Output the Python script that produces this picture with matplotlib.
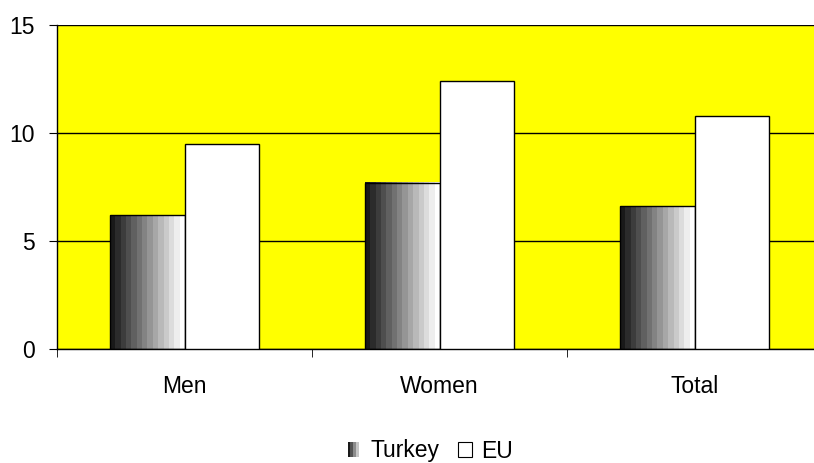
import numpy as np
import matplotlib.pyplot as plt
from matplotlib.patches import Rectangle
from matplotlib.legend_handler import HandlerBase

categories = ['Men', 'Women', 'Total']
turkey = [6.2, 7.7, 6.6]
eu = [9.5, 12.4, 10.8]

plt.rcParams['font.family'] = ['Liberation Sans', 'DejaVu Sans']


class GradientHandler(HandlerBase):
    def create_artists(self, legend, orig_handle, xdescent, ydescent,
                       width, height, fontsize, trans):
        arts = []
        n = 5
        w = width / n
        for i in range(n):
            g = 0.1 + 0.9 * i / (n - 1)
            r = Rectangle((-xdescent + i * w, -ydescent), w, height,
                          facecolor=(g, g, g), edgecolor='none', transform=trans)
            arts.append(r)
        return arts


fig = plt.figure(figsize=(8.14, 4.63), dpi=100)
ax = fig.add_axes([57 / 814, 1 - 349 / 463, 765 / 814, 324 / 463])
ax.set_facecolor('#ffff00')

x = np.arange(len(categories))
bw = 0.294
tb = ax.bar(x - bw / 2, turkey, bw, color='none', edgecolor='black', linewidth=1, zorder=3)
eb = ax.bar(x + bw / 2, eu, bw, color='white', edgecolor='black', linewidth=1, zorder=3)

# gradient fill for Turkey bars
grad = np.linspace(0.1, 1.0, 14).reshape(1, -1)
for p in tb:
    x0, y0 = p.get_x(), p.get_y()
    ax.imshow(grad, cmap='gray', vmin=0, vmax=1, aspect='auto', interpolation='nearest',
              extent=(x0, x0 + p.get_width(), y0, y0 + p.get_height()), zorder=2)

ax.set_xlim(-0.5, 2.5)
ax.set_ylim(0, 15)
ax.set_yticks([0, 5, 10, 15])
ax.yaxis.grid(True, color='black', linewidth=1)
ax.set_axisbelow(True)
ax.set_xticks(x)
ax.set_xticklabels(categories)
ax.set_xticks([-0.5, 0.5, 1.5, 2.5], minor=True)
ax.tick_params(axis='x', which='major', length=0, pad=19, labelsize=16.5)
ax.tick_params(axis='x', which='minor', length=6, direction='out')
ax.tick_params(axis='y', length=6, direction='out', labelsize=16.5, pad=10)
for s in ['top', 'right']:
    ax.spines[s].set_visible(False)
ax.spines['left'].set_linewidth(1)
ax.spines['bottom'].set_linewidth(1)

h1 = Rectangle((0, 0), 1, 1)
h2 = Rectangle((0, 0), 1, 1, facecolor='white', edgecolor='black', linewidth=0.8)
fig.legend([h1, h2], ['Turkey', 'EU'], loc='center', bbox_to_anchor=(430 / 814, 1 - 451 / 463),
           ncol=2, frameon=False, fontsize=16.5, handlelength=0.6, handleheight=0.6,
           handletextpad=0.4, columnspacing=0.8, borderpad=0,
           handler_map={h1: GradientHandler()})

fig.savefig('out.png', dpi=100)
